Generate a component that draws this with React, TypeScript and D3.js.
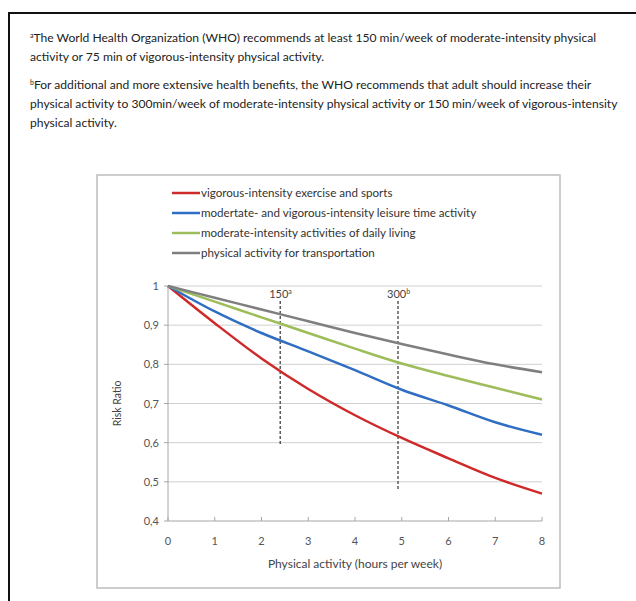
import React from "react";
import * as d3 from "d3";

const hours = [0, 1, 2, 3, 4, 5, 6, 7, 8];
const vigorous = [1, 0.905, 0.815, 0.737, 0.67, 0.612, 0.56, 0.51, 0.47];
const leisure = [1, 0.935, 0.88, 0.833, 0.785, 0.735, 0.695, 0.652, 0.62];
const daily = [1, 0.96, 0.92, 0.88, 0.84, 0.802, 0.77, 0.74, 0.71];
const transport = [1, 0.97, 0.94, 0.91, 0.88, 0.852, 0.825, 0.8, 0.78];

const seriesNames = [
  "vigorous-intensity exercise and sports",
  "modertate- and vigorous-intensity leisure time activity",
  "moderate-intensity activities of daily living",
  "physical activity for transportation",
];
const seriesValues = [vigorous, leisure, daily, transport];
const seriesColors = ["#cf2a2a", "#2f6ec2", "#9dbd5a", "#7f7f7f"];

const yTicks = [0.4, 0.5, 0.6, 0.7, 0.8, 0.9, 1];
const xTicks = [0, 1, 2, 3, 4, 5, 6, 7, 8];

const refLines = [
  { x: 2.4, label: "150", sup: "a", yTop: 0.962, yBottom: 0.595 },
  { x: 4.92, label: "300", sup: "b", yTop: 0.962, yBottom: 0.48 },
];

const noteA = [
  "The World Health Organization (WHO) recommends at least 150 min/week of moderate-intensity physical",
  "activity or 75 min of vigorous-intensity physical activity.",
];
const noteB = [
  "For additional and more extensive health benefits, the WHO recommends that adult should increase their",
  "physical activity to 300min/week of moderate-intensity physical activity or 150 min/week of vigorous-intensity",
  "physical activity.",
];

export default function App() {
  const W = 636;
  const H = 601;
  const x = d3.scaleLinear().domain([0, 8]).range([168, 542]);
  const y = d3.scaleLinear().domain([0.4, 1]).range([521, 286]);
  const line = d3
    .line<number>()
    .x((_, i) => x(hours[i]))
    .y((d) => y(d))
    .curve(d3.curveMonotoneX);
  const font = "Lato, 'Open Sans', sans-serif";
  const fmt = (v: number) => (v === 1 ? "1" : d3.format(".1f")(v).replace(".", ","));

  return (
    <svg width={W} height={H} style={{ position: "absolute", left: 0, top: 0 }} fontFamily={font}>
      <rect x={0} y={0} width={W} height={H} fill="#fff" />
      {/* outer frame */}
      <line x1={8} y1={13} x2={W} y2={13} stroke="#111" strokeWidth={2} />
      <line x1={9} y1={13} x2={9} y2={H} stroke="#111" strokeWidth={2} />

      {/* notes */}
      <g fontSize={12.1} fill="#222">
        <text x={30} y={42}>
          <tspan fontSize={7} dy={-4}>a</tspan>
          <tspan dy={4}>{noteA[0]}</tspan>
        </text>
        <text x={30} y={61}>{noteA[1]}</text>
        <text x={30} y={89}>
          <tspan fontSize={7} dy={-4}>b</tspan>
          <tspan dy={4}>{noteB[0]}</tspan>
        </text>
        <text x={30} y={108}>{noteB[1]}</text>
        <text x={30} y={127}>{noteB[2]}</text>
      </g>

      {/* chart box */}
      <rect x={97} y={175} width={463} height={413} fill="#fff" stroke="#bdbdbd" strokeWidth={1.5} />

      {/* gridlines */}
      {yTicks.map((t) => (
        <line key={"g" + t} x1={x(0)} x2={x(8)} y1={y(t)} y2={y(t)} stroke={t === 0.4 ? "#a6a6a6" : "#d0d0d0"} strokeWidth={1} />
      ))}
      <line x1={x(0)} x2={x(0)} y1={y(1)} y2={y(0.4)} stroke="#a6a6a6" strokeWidth={1} />
      {xTicks.map((t) => (
        <line key={"xt" + t} x1={x(t)} x2={x(t)} y1={y(0.4)} y2={y(0.4) - 4} stroke="#a6a6a6" />
      ))}
      {yTicks.map((t) => (
        <line key={"yt" + t} x1={x(0) - 4} x2={x(0)} y1={y(t)} y2={y(t)} stroke="#a6a6a6" />
      ))}

      {/* tick labels */}
      <g fontSize={11} fill="#555">
        {yTicks.map((t) => (
          <text key={"yl" + t} x={159} y={y(t) + 4} textAnchor="end">
            {fmt(t)}
          </text>
        ))}
        {xTicks.map((t) => (
          <text key={"xl" + t} x={x(t)} y={545} textAnchor="middle">
            {t}
          </text>
        ))}
      </g>
      <text x={355} y={568} textAnchor="middle" fontSize={12} fill="#444">
        Physical activity (hours per week)
      </text>
      <text transform={`translate(121,${y(0.7)}) rotate(-90)`} textAnchor="middle" fontSize={10.5} fill="#444">
        Risk Ratio
      </text>

      {/* reference lines */}
      {refLines.map((r) => (
        <g key={r.label}>
          <line x1={x(r.x)} x2={x(r.x)} y1={y(r.yTop)} y2={y(r.yBottom)} stroke="#333" strokeWidth={1.2} strokeDasharray="3,2" />
          <text x={x(r.x) - 11} y={y(r.yTop) - 3} fontSize={11} fill="#444">
            {r.label}
            <tspan fontSize={7} dy={-4}>{r.sup}</tspan>
          </text>
        </g>
      ))}

      {/* series */}
      {seriesValues.map((vals, i) => (
        <path key={"s" + i} d={line(vals) || ""} fill="none" stroke={seriesColors[i]} strokeWidth={2.5} />
      ))}

      {/* legend */}
      {seriesNames.map((n, i) => (
        <g key={"l" + i} transform={`translate(172,${193 + i * 20})`}>
          <line x1={0} x2={28} y1={0} y2={0} stroke={seriesColors[i]} strokeWidth={2.5} />
          <text x={29} y={4} fontSize={11.6} fill="#333">
            {n}
          </text>
        </g>
      ))}
    </svg>
  );
}
